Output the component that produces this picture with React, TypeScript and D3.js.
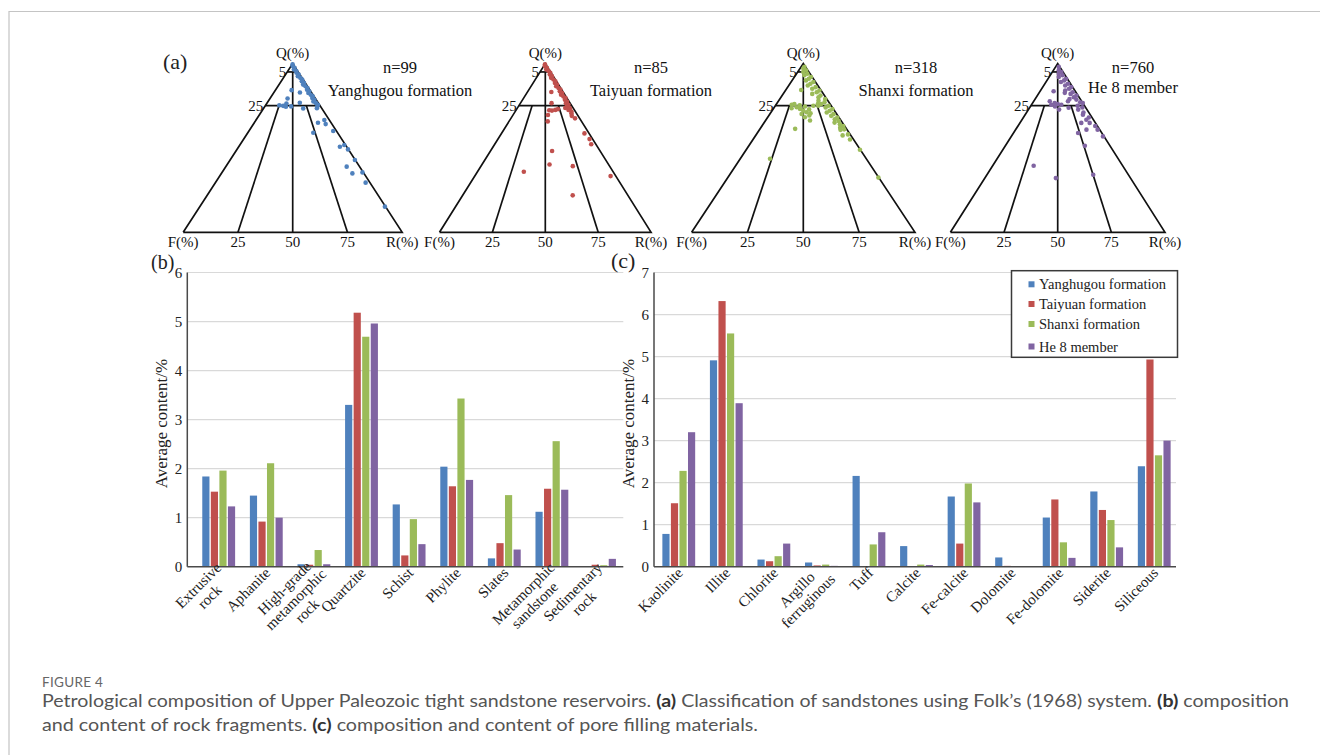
import { useEffect, useRef } from "react";
import * as d3 from "d3";

const formations = ["Yanghugou formation", "Taiyuan formation", "Shanxi formation", "He 8 member"];
const colors = ["#4f81bd", "#c0504d", "#9bbb59", "#8064a2"];
const sampleCounts = [99, 85, 318, 760];

// ternary samples as [Q, F] in %, R = 100 - Q - F
const yanghugouPts = [
  [99.5, 0.3], [98.5, 0.8], [97.5, 0.4], [96.5, 1.2], [95.5, 0.6], [94.5, 1], [93.5, 0.5], [92.5, 1.4],
  [91.5, 0.8], [90.5, 0.4], [89.5, 1.1], [88.5, 0.6], [87.5, 1.5], [86.5, 0.9], [85.5, 0.5], [84.5, 1.2],
  [83.5, 0.7], [82.5, 1.6], [81.5, 1], [80.5, 0.6], [79.5, 1.3], [78.5, 0.8], [77.5, 1.8], [76.5, 1.1],
  [75.5, 0.7], [74.5, 1.5], [73.5, 2.2],
  [84.2, 8.4], [82.8, 5.3], [79.3, 12.7], [76.3, 14.7], [74.9, 16.9], [74.4, 15.9], [75.2, 18.5], [74.6, 13.4],
  [76.7, 8.4], [73.4, 8.5], [59, 11.1], [64.9, 6], [66.5, 2.3], [64.1, 2.9], [60, 1.5], [50.7, 3.1],
  [51.7, 0.6], [49.1, 0.2], [42.8, 0.2], [38.9, 5.9], [34.9, 5.3], [35.5, 0.4], [29.4, 2], [15.2, 0.3],
];
const taiyuanPts = [
  [99.5, 0.4], [98.5, 1], [97.5, 0.5], [96.5, 1.3], [95.5, 0.7], [94.5, 0.4], [93.5, 1.1], [92.5, 0.6],
  [91.5, 1.5], [90.5, 0.9], [89.5, 0.5], [88.5, 1.2], [87.5, 0.7], [86.5, 1.6], [85.5, 1], [84.5, 0.6],
  [83.5, 1.4], [82.5, 0.8], [81.5, 1.8], [80.5, 1.2], [79.5, 0.7], [78.5, 1.5], [77.5, 1], [76.5, 2],
  [75.5, 1.3], [74.5, 2.5], [73.5, 1.6], [72.5, 2.8], [71.5, 1.9], [70.5, 2.4], [69, 3], [67.5, 2.2],
  [83.1, 5.6], [76.5, 8.8], [69.5, 14], [65.7, 16], [72.1, 10.8], [72.5, 9], [73, 7.5], [73.7, 3.7],
  [72.3, 12], [58.6, 2.2], [55.2, 1.5], [52.2, 2.2], [48.2, 22.7], [40.2, 27.9], [39.2, 17.4], [33.3, 2.5],
  [35.9, 42.2], [21.9, 26.1],
];
const shanxiPts = [
  [98, 0.5], [97, 1.5], [96, 0.8], [95, 2.5], [94, 1.2], [93, 3], [92, 0.6], [91, 2], [90, 3.8], [89, 1],
  [88, 2.8], [87, 4.5], [86, 1.5], [85, 3.5], [84, 0.8], [83, 2.5], [82, 5], [81, 1.8], [80, 3.2], [79, 0.7],
  [78, 4.2], [77, 2], [76, 5.5], [75, 1.2], [74, 3], [73, 0.5], [72, 2.2], [71, 4], [70, 1.5], [69, 3],
  [68, 0.8], [67, 2.4], [66, 1.2], [65, 3.5], [64, 1.6], [63, 0.6], [62, 2.5], [61, 1.2], [60.7, 3],
  [57.4, 3.7], [55, 1.6], [58, 1], [48.9, 0.2], [32.4, 0.2], [75, 5.8], [76, 4],
  [84.3, 8.8], [76, 16], [75.6, 17.4], [74.1, 15.9], [73.1, 14.9], [72.1, 14], [71.1, 13], [69.2, 12.7],
  [66.2, 13.9], [68.2, 15.2], [70.1, 15.7], [61.3, 23], [75, 8], [74.5, 12], [73.5, 18.5], [75.2, 14],
  [72.8, 11], [70.5, 11.5], [43.6, 43.1],
];
const he8Pts = [
  [98, 0.5], [96, 1.5], [95, 0.8], [94, 2.5], [93, 1.2], [92, 3.5], [91, 0.6], [90, 2], [89, 4], [88, 1.2],
  [87, 3], [86, 0.7], [85, 2.2], [84, 4.5], [83, 1.5], [82, 3], [81, 0.8], [80, 2.5], [79, 5], [78.6, 2],
  [77, 1], [76.6, 0], [75, 3.2], [74, 1.5], [72.7, 4.1], [71, 2.5], [69.7, 3.4], [68, 1.5], [66.7, 3.3],
  [64.8, 2.7], [63, 1], [60.8, 1], [56.8, 0.5],
  [83.6, 10.1], [77.6, 14.9], [75.6, 15.2], [76.6, 13.1], [75.6, 10.5], [72.7, 13], [77.6, 6.4], [82.6, 5.4],
  [58.8, 11.1], [51.3, 11.7], [34.1, 16.4], [39.4, 41.5], [32.1, 34.8], [60.8, 6.2], [64.8, 6.6], [76, 12],
  [74.5, 14], [73.8, 8],
];
const ternaryPts = [yanghugouPts, taiyuanPts, shanxiPts, he8Pts];

// (b) rock fragments
const fragmentCats = [
  ["Extrusive", "rock"], ["Aphanite"], ["High-grade", "metamorphic", "rock"], ["Quartzite"], ["Schist"],
  ["Phylite"], ["Slates"], ["Metamorphic", "sandstone"], ["Sedimentary", "rock"],
];
const fragYanghugou = [1.84, 1.45, 0.05, 3.3, 1.27, 2.04, 0.17, 1.12, 0.01];
const fragTaiyuan = [1.53, 0.92, 0.04, 5.18, 0.23, 1.64, 0.48, 1.59, 0.04];
const fragShanxi = [1.96, 2.11, 0.34, 4.69, 0.97, 3.43, 1.46, 2.56, 0.03];
const fragHe8 = [1.23, 1.0, 0.05, 4.96, 0.46, 1.77, 0.35, 1.57, 0.16];

// (c) pore filling materials
const fillCats = [
  ["Kaolinite"], ["Illite"], ["Chlorite"], ["Argillo", "ferruginous"], ["Tuff"], ["Calcite"],
  ["Fe-calcite"], ["Dolomite"], ["Fe-dolomite"], ["Siderite"], ["Siliceous"],
];
const fillYanghugou = [0.78, 4.91, 0.17, 0.1, 2.16, 0.49, 1.67, 0.22, 1.17, 1.79, 2.39];
const fillTaiyuan = [1.51, 6.32, 0.13, 0.03, 0, 0, 0.55, 0.02, 1.6, 1.35, 4.93];
const fillShanxi = [2.28, 5.55, 0.25, 0.05, 0.53, 0.05, 1.98, 0, 0.58, 1.11, 2.65];
const fillHe8 = [3.2, 3.89, 0.55, 0.02, 0.82, 0.04, 1.53, 0, 0.21, 0.46, 3.0];

const serif = "'Liberation Serif', 'Times New Roman', serif";
const sans = "Lato, 'Open Sans', sans-serif";

const App = () => {
  const ref = useRef<SVGSVGElement>(null);

  useEffect(() => {
    const svg = d3.select(ref.current);
    svg.selectAll("*").remove();

    // frame
    svg.append("path").attr("d", "M9,755V11.5H1320").attr("fill", "none").attr("stroke", "#c4c4c4").attr("stroke-width", 1.2);

    // ---- (a) ternary plots ----
    const apexY = 63.5;
    const baseY = 232.3;
    const triLayout = [
      { cx: 292.7, hw: 109.5, tx: 400, nameY: 96 },
      { cx: 545.3, hw: 105.8, tx: 651, nameY: 96 },
      { cx: 803.3, hw: 111.7, tx: 916, nameY: 96 },
      { cx: 1057.7, hw: 107.3, tx: 1133, nameY: 93 },
    ];

    triLayout.forEach((t, i) => {
      const g = svg.append("g");
      const xs = d3.scaleLinear().domain([0, 100]).range([t.cx - t.hw, t.cx + t.hw]);
      const ys = d3.scaleLinear().domain([0, 100]).range([baseY, apexY]);
      const pt = (q: number, r: number): [number, number] => [xs(r + q / 2), ys(q)];
      const line = d3.line();
      const segs: [number, number][][] = [
        [pt(0, 0), pt(100, 0), pt(0, 100), pt(0, 0)],
        [pt(95, 0), pt(95, 5)],
        [pt(75, 0), pt(75, 25)],
        [pt(0, 50), pt(95, 2.5)],
        [pt(0, 25), pt(75, 6.25)],
        [pt(0, 75), pt(75, 18.75)],
      ];
      segs.forEach((s) => {
        g.append("path").attr("d", line(s)).attr("fill", "none").attr("stroke", "#111").attr("stroke-width", 1.7).attr("stroke-linejoin", "miter");
      });

      g.selectAll("circle")
        .data(ternaryPts[i])
        .enter()
        .append("circle")
        .attr("cx", (d) => pt(d[0], 100 - d[0] - d[1])[0])
        .attr("cy", (d) => pt(d[0], 100 - d[0] - d[1])[1])
        .attr("r", 2.3)
        .attr("fill", colors[i]);

      const lab = (x: number, y: number, s: string, anchor = "middle", size = 15) =>
        g.append("text").attr("x", x).attr("y", y).attr("text-anchor", anchor)
          .style("font-family", serif).style("font-size", size + "px").attr("fill", "#111").text(s);

      lab(t.cx, 58, "Q(%)");
      lab(pt(95, 0)[0] - 1, ys(95) + 5, "5", "end");
      lab(pt(75, 0)[0] - 2, ys(75) + 5, "25", "end");
      lab(xs(0), 247, "F(%)");
      lab(xs(25), 247, "25");
      lab(xs(50), 247, "50");
      lab(xs(75), 247, "75");
      lab(xs(100), 247, "R(%)");
      lab(t.tx, 73, "n=" + sampleCounts[i], "middle", 16.5);
      lab(t.tx, t.nameY, formations[i], "middle", 16.5);
    });

    // ---- bar charts ----
    const y0 = 566.7;
    const yTop = 272.5;

    const drawBars = (
      cats: string[][],
      series: number[][],
      yMax: number,
      axisX: number,
      r0: number,
      r1: number,
      gridEnd: number,
      labelX: number
    ) => {
      const g = svg.append("g");
      const y = d3.scaleLinear().domain([0, yMax]).range([y0, yTop]);
      const x = d3.scaleBand<number>().domain(d3.range(cats.length)).range([r0, r1]).paddingInner(0.31).paddingOuter(0.155);
      const xs = d3.scaleBand<number>().domain(d3.range(series.length)).range([0, x.bandwidth()]).paddingInner(0.16);

      const ticks = d3.range(0, yMax + 1);
      g.selectAll(".grid")
        .data(ticks.slice(1))
        .enter()
        .append("line")
        .attr("x1", axisX)
        .attr("x2", gridEnd)
        .attr("y1", (d) => y(d))
        .attr("y2", (d) => y(d))
        .attr("stroke", "#d9d9d9")
        .attr("stroke-width", 1.2);

      g.selectAll(".tick")
        .data(ticks)
        .enter()
        .append("text")
        .attr("x", axisX - 5)
        .attr("y", (d) => y(d) + 5)
        .attr("text-anchor", "end")
        .style("font-family", serif)
        .style("font-size", "15px")
        .attr("fill", "#222")
        .text((d) => d);

      series.forEach((vals, s) => {
        g.selectAll(".bar" + s)
          .data(vals)
          .enter()
          .append("rect")
          .attr("x", (d, i) => (x(i) as number) + (xs(s) as number))
          .attr("width", xs.bandwidth())
          .attr("y", (d) => y(d))
          .attr("height", (d) => y0 - y(d))
          .attr("fill", colors[s]);
      });

      g.append("line").attr("x1", axisX).attr("x2", axisX).attr("y1", yTop).attr("y2", y0)
        .attr("stroke", "#4a4a4a").attr("stroke-width", 1.5);
      g.append("line").attr("x1", axisX).attr("x2", gridEnd).attr("y1", y0).attr("y2", y0)
        .attr("stroke", "#4a4a4a").attr("stroke-width", 1.5);

      g.append("text")
        .attr("transform", `translate(${labelX},${(y0 + yTop) / 2 + 4}) rotate(-90)`)
        .attr("text-anchor", "middle")
        .style("font-family", serif)
        .style("font-size", "17px")
        .attr("fill", "#222")
        .text("Average content/%");

      cats.forEach((lines, i) => {
        const n = lines.length;
        const cx = (x(i) as number) + x.bandwidth() / 2;
        const ax = cx + 5 - (n - 1) * 1.5;
        const ay = y0 + 7 - (n - 1) * 5;
        const lg = g.append("g").attr("transform", `translate(${ax},${ay}) rotate(-45)`);
        const texts = lines.map((ln, k) =>
          lg.append("text").attr("y", k * 16).attr("text-anchor", "middle")
            .style("font-family", serif).style("font-size", "15px").attr("fill", "#222").text(ln)
        );
        const widths = texts.map((tx) => (tx.node() as SVGTextElement).getComputedTextLength());
        const maxW = Math.max(...widths);
        texts.forEach((tx) => tx.attr("x", -maxW / 2));
      });
    };

    drawBars(fragmentCats, [fragYanghugou, fragTaiyuan, fragShanxi, fragHe8], 6, 187.3, 194.9, 623.3, 623.3, 167);
    drawBars(fillCats, [fillYanghugou, fillTaiyuan, fillShanxi, fillHe8], 7, 654, 655, 1178, 1176, 634);

    // legend
    const lg = svg.append("g");
    lg.append("rect").attr("x", 1011.5).attr("y", 270.7).attr("width", 166).attr("height", 86.6)
      .attr("fill", "#fff").attr("stroke", "#3a3a3a").attr("stroke-width", 1.5);
    const rows = [284.3, 304, 324, 346.5];
    formations.forEach((f, i) => {
      lg.append("rect").attr("x", 1028.5).attr("y", rows[i] - 3).attr("width", 6).attr("height", 6).attr("fill", colors[i]);
      lg.append("text").attr("x", 1039).attr("y", rows[i] + 5)
        .style("font-family", serif).style("font-size", "14.5px").attr("fill", "#222").text(f);
    });

    // panel letters
    const panel = (x: number, y: number, s: string, size = 22) =>
      svg.append("text").attr("x", x).attr("y", y).style("font-family", serif).style("font-size", size + "px").attr("fill", "#222").text(s);
    panel(163, 69, "(a)");
    panel(151, 269, "(b)", 20);
    panel(611, 268, "(c)");

    // caption
    svg.append("text").attr("x", 42).attr("y", 687).style("font-family", sans).style("font-size", "13.5px")
      .attr("fill", "#666").attr("letter-spacing", "0.3px").text("FIGURE 4");
    const capLine = (y: number, parts: [string, boolean][], len: number) => {
      const t = svg.append("text").attr("x", 42).attr("y", y).style("font-family", sans).style("font-size", "17.5px")
        .attr("fill", "#555").attr("textLength", len).attr("lengthAdjust", "spacingAndGlyphs");
      parts.forEach(([s, b]) => t.append("tspan").attr("font-weight", b ? 700 : 400).attr("fill", b ? "#333" : "#555").text(s));
    };
    capLine(707, [
      ["Petrological composition of Upper Paleozoic tight sandstone reservoirs. ", false],
      ["(a)", true],
      [" Classification of sandstones using Folk\u2019s (1968) system. ", false],
      ["(b)", true],
      [" composition", false],
    ], 1247);
    capLine(731, [
      ["and content of rock fragments. ", false],
      ["(c)", true],
      [" composition and content of pore filling materials.", false],
    ], 716);
  }, []);

  return (
    <svg
      ref={ref}
      width={1320}
      height={755}
      style={{ position: "absolute", left: 0, top: 0, background: "#fff" }}
    />
  );
};

export default App;
